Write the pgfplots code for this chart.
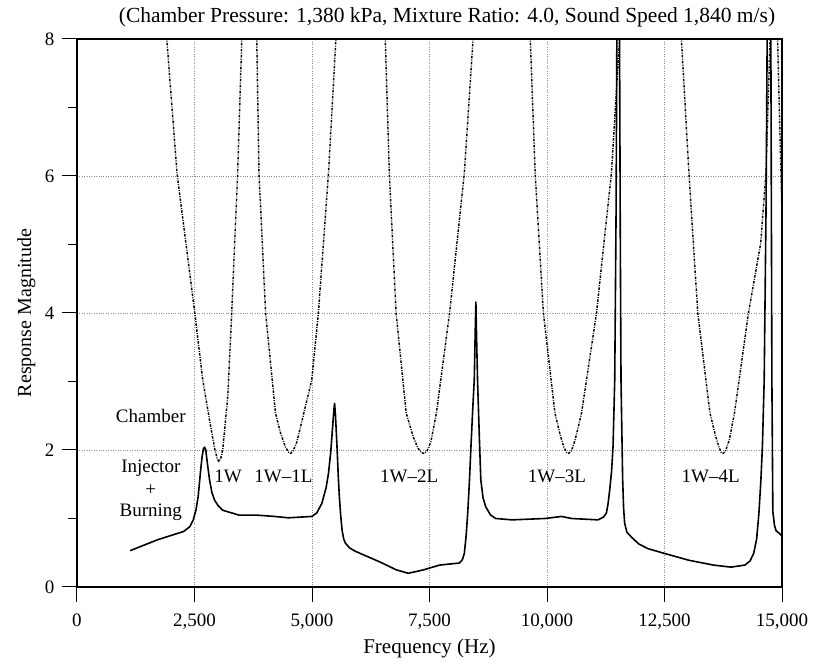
\documentclass[border=0pt]{standalone}
\usepackage{fontspec}
\setmainfont{Liberation Serif}
\usepackage{pgfplots}
\pgfplotsset{compat=1.18}
\begin{document}
\fontsize{19}{23}\selectfont
\begin{tikzpicture}[x=1pt,y=1pt]
\useasboundingbox (-77,-76) rectangle (737,587);
\begin{axis}[
 at={(0,0)}, anchor=south west,
 scale only axis, width=705pt, height=548pt,
 xmin=0, xmax=15000, ymin=0, ymax=8,
 xtick={0,2500,5000,7500,10000,12500,15000},
 ytick={0,2,4,6,8}, minor ytick={1,3,5,7},
 tick pos=left, tick align=outside,
 major tick length=15pt, minor tick length=9pt,
 tick style={black, line width=1pt},
 axis line style={line width=1.6pt},
 grid=major, grid style={dotted, black!45, line width=0.8pt},
 /pgf/number format/1000 sep={,},
 /pgf/number format/assume math mode=true,
 scaled x ticks=false,
 every tick label/.style={font=\fontsize{19}{23}\selectfont},
 xticklabel style={yshift=-5pt},
 yticklabel style={xshift=-1pt},
 xlabel={Frequency (Hz)}, ylabel={Response Magnitude},
 xlabel style={font=\fontsize{21}{25}\selectfont, at={(axis description cs:0.5,-0.1113)}, anchor=center},
 ylabel style={font=\fontsize{20}{24}\selectfont, at={(axis description cs:-0.072,0.5)}, anchor=center, rotate=0},
]
% Injector + Burning response (solid)
\addplot[black, line width=1.6pt, line join=round] coordinates {
(1130,0.53) (1715,0.69) (2267,0.81) (2400,0.88) (2473,0.98) (2530,1.12) (2578,1.32)
(2630,1.70) (2662,1.90) (2690,2.02) (2715,2.04) (2740,2.00) (2775,1.80) (2821,1.56)
(2870,1.38) (2926,1.27) (3000,1.19) (3103,1.12) (3445,1.05)
(3803,1.05) (4200,1.03) (4496,1.01) (4994,1.03) (5100,1.08) (5209,1.22) (5300,1.45)
(5351,1.66) (5400,1.98) (5440,2.35) (5470,2.62) (5481,2.68) (5500,2.50) (5532,2.05)
(5560,1.60) (5582,1.32) (5610,1.05) (5640,0.83) (5675,0.70) (5711,0.64) (5800,0.57)
(5927,0.52) (6429,0.37) (6796,0.25) (7048,0.20) (7371,0.25) (7716,0.32)
(8136,0.35) (8200,0.40) (8241,0.49) (8280,0.75) (8313,1.08) (8350,1.55) (8382,2.05)
(8420,2.60) (8452,3.02) (8475,3.80) (8487,4.16) (8500,3.70) (8522,3.02) (8560,2.20)
(8592,1.56) (8640,1.30) (8697,1.17) (8800,1.05) (8908,1.00) (9258,0.98) (9958,1.00)
(10311,1.03) (10523,1.00) (11087,0.98) (11200,1.02) (11264,1.08) (11300,1.22) (11335,1.42)
(11375,1.70) (11405,2.05) (11441,3.02) (11470,5.50) (11490,8.6) (11540,8.6) (11560,5.0)
(11575,3.0) (11610,1.56) (11630,1.15) (11652,0.93) (11700,0.80)
(11794,0.73) (11950,0.63) (12147,0.56) (12500,0.49) (13021,0.39) (13542,0.32) (13914,0.29)
(14211,0.32) (14320,0.38) (14397,0.49) (14460,0.70) (14509,1.08) (14550,1.55) (14583,2.05)
(14621,3.02) (14660,5.5) (14690,8.6) (14760,8.6) (14785,3.0) (14805,1.1) (14840,0.90)
(14875,0.82) (14950,0.78) (15000,0.74)
};
% Chamber modes (dash-dot)
\pgfplotsset{cham/.style={black, line width=1.45pt, dash pattern=on 2.5pt off 1.3pt on 0.9pt off 1.3pt, line join=round}}
\addplot[cham] coordinates {
(1907,8.03) (2128,6.04) (2506,4.0) (2676,3.02) (2857,2.29) (2930,2.02) (2980,1.88) (3018,1.83)
(3060,1.88) (3103,2.02) (3208,2.78) (3292,4.0) (3418,6.04) (3508,8.03)};
\addplot[cham] coordinates {
(3824,8.03) (3872,6.04) (4013,4.0) (4223,2.54) (4330,2.25) (4430,2.05) (4500,1.97) (4545,1.95) (4600,1.99)
(4680,2.12) (4994,3.02) (5136,4.0) (5351,6.04) (5511,8.03)};
\addplot[cham] coordinates {
(6558,8.03) (6645,6.04) (6789,4.0) (7004,2.54) (7150,2.20) (7250,2.03) (7330,1.96) (7390,1.95) (7450,1.99)
(7530,2.12) (7647,2.54) (7927,4.0) (8241,6.04) (8430,8.03)};
\addplot[cham] coordinates {
(9643,8.03) (9748,6.04) (9923,4.0) (10169,2.54) (10280,2.22) (10360,2.04) (10420,1.96) (10460,1.95)
(10520,1.99) (10600,2.15) (10735,2.54) (11053,4.0) (11370,6.04) (11547,8.03)};
\addplot[cham] coordinates {
(12857,8.03) (13020,6.04) (13208,4.0) (13467,2.54) (13580,2.22) (13660,2.04) (13710,1.96) (13750,1.95)
(13800,1.99) (13880,2.15) (13989,2.54) (14286,4.0) (14547,5.02) (14658,6.04) (14748,8.03)};
\addplot[cham] coordinates {(14905,8.03) (14950,6.8) (14995,5.6)};
\node at (axis cs:1570,2.5) {Chamber};
\node at (axis cs:1570,1.74) {Injector};
\node at (axis cs:1570,1.42) {+};
\node at (axis cs:1570,1.09) {Burning};
\node at (axis cs:3214,1.61) {1W};
\node at (axis cs:4391,1.61) {1W–1L};
\node at (axis cs:7069,1.61) {1W–2L};
\node at (axis cs:10212,1.61) {1W–3L};
\node at (axis cs:13482,1.61) {1W–4L};
\end{axis}
\node[font=\fontsize{21.5}{25}\selectfont] at (370,570) {(Chamber Pressure: 1,380 kPa, Mixture Ratio: 4.0, Sound Speed 1,840 m/s)};
\end{tikzpicture}
\end{document}
